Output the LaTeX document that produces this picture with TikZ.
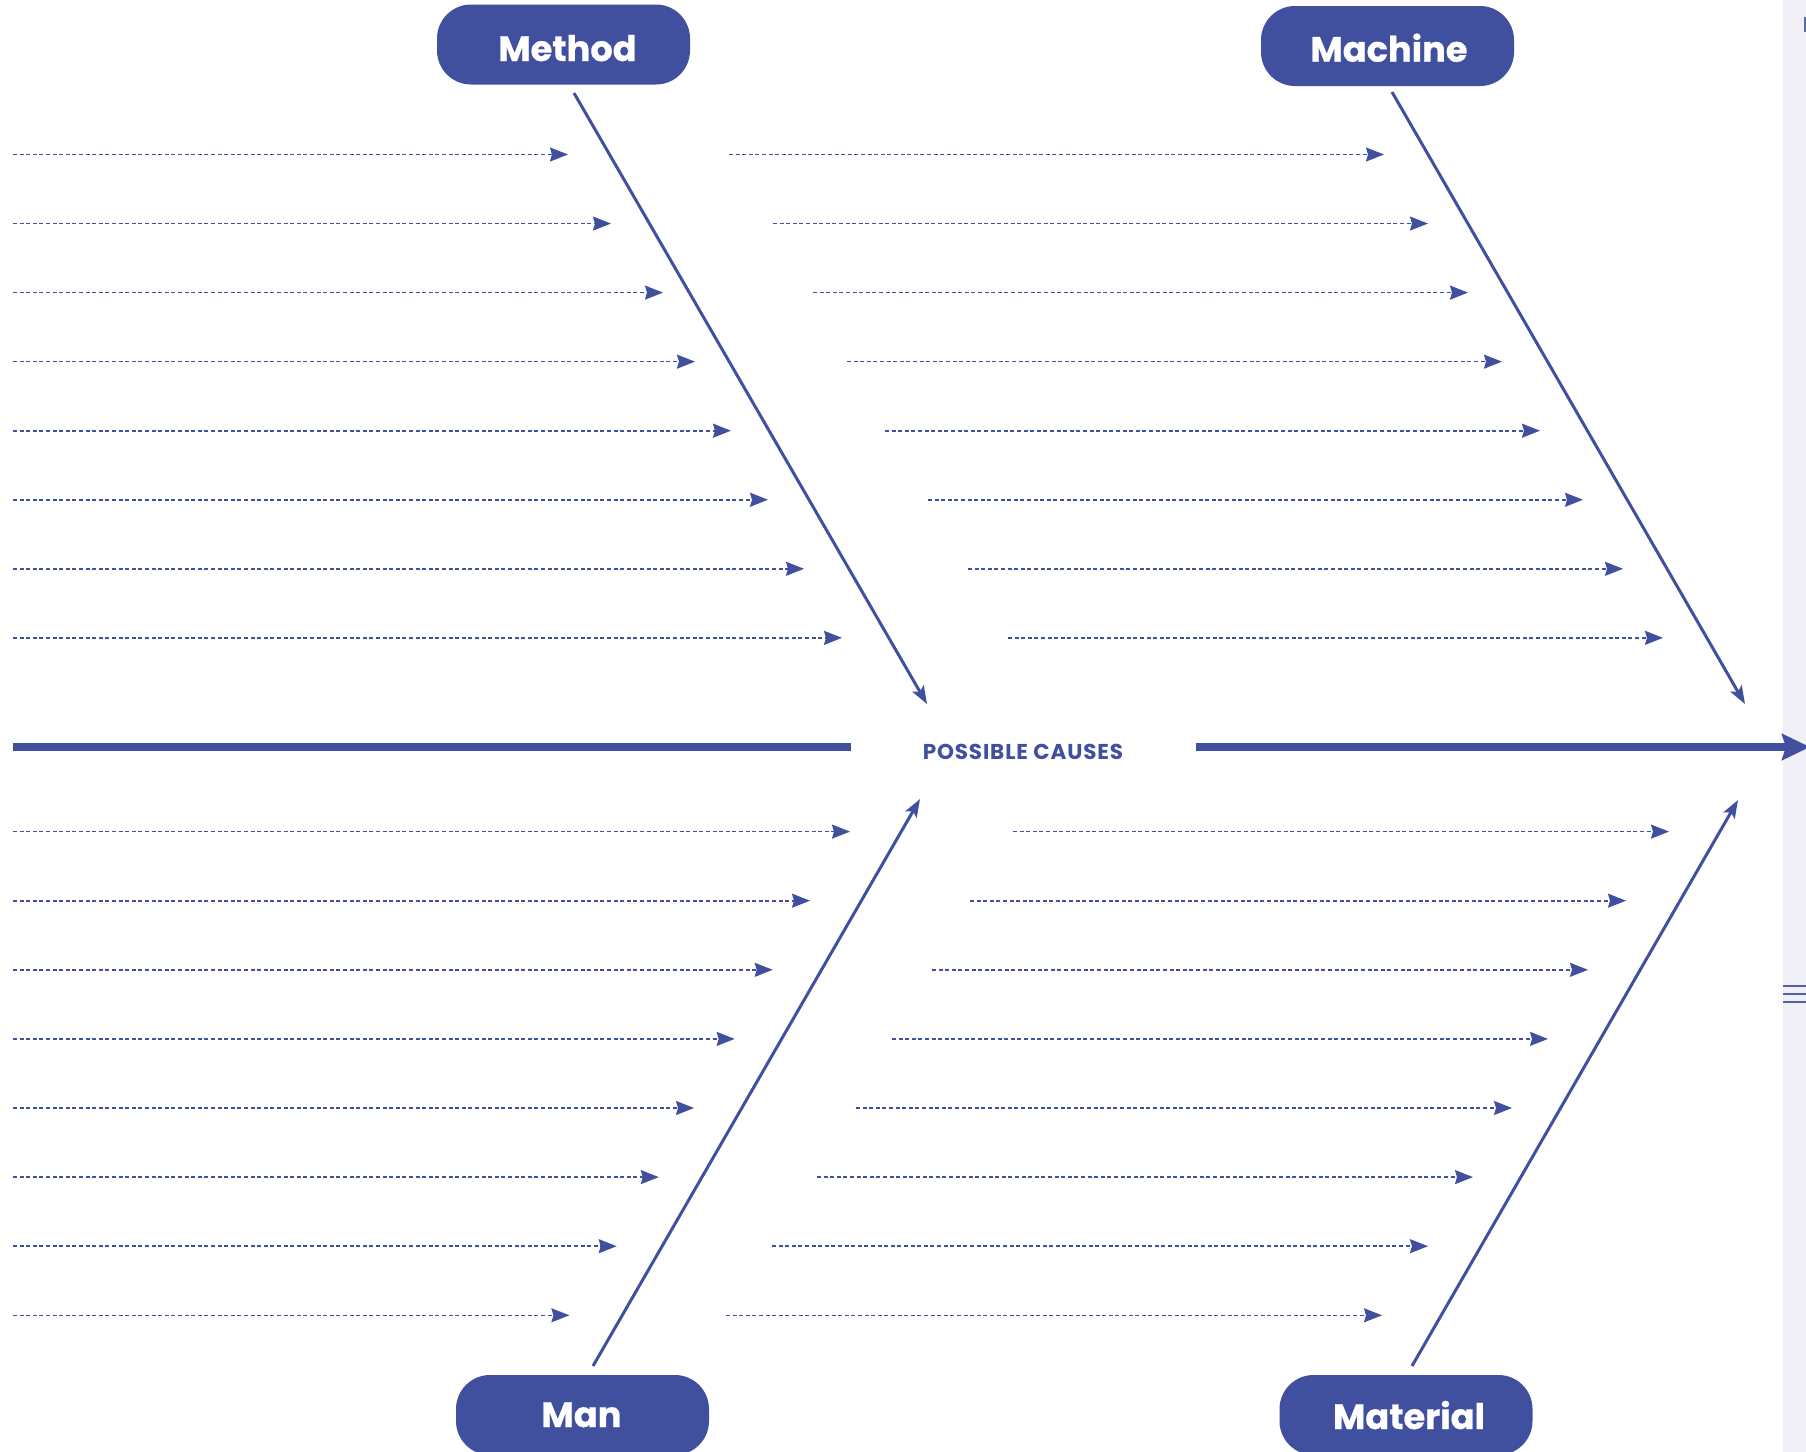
\documentclass[tikz,border=0pt]{standalone}
\usepackage{fontspec}
\setmainfont{Poppins}
\usetikzlibrary{arrows.meta}
\definecolor{navy}{HTML}{41509E}
\definecolor{stripgray}{HTML}{F0EFF5}
\begin{document}
\begin{tikzpicture}[x=0.5pt,y=-0.5pt,
  catbox/.style={draw=none,fill=navy,rounded corners=17pt,minimum width=126.5pt,minimum height=40pt,inner sep=0pt},
  cattext/.style={text=white,anchor=base,inner sep=0pt,font=\fontsize{17.6pt}{20pt}\selectfont\bfseries\addfontfeatures{FakeBold=0.6}},
  bone/.style={navy,line width=1.5pt,-{Stealth[length=9pt,width=6.5pt,inset=2pt]}},
  spine/.style={navy,line width=4pt},
  causeline/.style={navy,line width=0.8pt,dash pattern=on 2pt off 1.3pt,-{Stealth[length=9pt,width=7pt,inset=1pt]}}]
\useasboundingbox (0,0) rectangle (1806,1452);
\clip (0,0) rectangle (1806,1452);
\fill[white] (0,0) rectangle (1806,1452);
% side strip
\fill[stripgray] (1783,0) rectangle (1806,1452);
\fill[navy!85] (1804.3,16.7) rectangle (1806,31.7);
\foreach \yy in {985.7,993.7,1001.7}{\fill[navy!90] (1783,\yy-1.2) rectangle (1806,\yy+1.2);}
% category boxes
\node[catbox] (method) at (563.5,44.5) {};
\node[catbox] (machine) at (1387.5,46) {};
\node[catbox] (man) at (582.5,1415) {};
\node[catbox] (material) at (1406,1415) {};
\node[cattext] (methodt) at (567.5,61) {Method};
\node[cattext] (machinet) at (1389,61.7) {Machine};
\node[cattext] (mant) at (581.5,1427) {Man};
\node[cattext] (materialt) at (1409,1429) {Material};
% head label
\node[anchor=base,inner sep=0pt,text=navy,font=\fontsize{10.75pt}{12pt}\selectfont\bfseries\addfontfeatures{LetterSpace=4}] (causes) at (1023,759) {POSSIBLE CAUSES};
% spine
\coordinate (sp1) at (13,746.5);
\coordinate (sp2) at (851,746.5);
\coordinate (sp3) at (1196,747);
\coordinate (sp4) at (1810,747);
\draw[spine] (sp1) -- (sp2);
\draw[spine,-{Stealth[length=14pt,width=13pt,inset=2pt]}] (sp3) -- (sp4);
% bones
\coordinate (b1s) at (574,93);   \coordinate (b1e) at (927,704);
\coordinate (b2s) at (1392,92);  \coordinate (b2e) at (1745,704);
\coordinate (b3s) at (593,1366); \coordinate (b3e) at (920,799);
\coordinate (b4s) at (1412,1366);\coordinate (b4e) at (1738,800);
\draw[bone] (b1s) -- (b1e);
\draw[bone] (b2s) -- (b2e);
\draw[bone] (b3s) -- (b3e);
\draw[bone] (b4s) -- (b4e);
% upper left causes
\foreach \i/\xe in {0/568,1/611,2/663,3/695,4/731,5/768,6/804,7/842}{
  \coordinate (ul\i s) at (13,{154.5+69.05*\i});
  \coordinate (ul\i e) at (\xe,{154.5+69.05*\i});
  \draw[causeline] (ul\i s) -- (ul\i e);
}
% upper right causes
\foreach \i/\xs in {0/729,1/773,2/813,3/847,4/885,5/928,6/968,7/1008}{
  \coordinate (ur\i s) at (\xs,{154.5+69.05*\i});
  \coordinate (ur\i e) at ({\xs+655},{154.5+69.05*\i});
  \draw[causeline] (ur\i s) -- (ur\i e);
}
% lower left causes
\foreach \i/\xe in {0/850,1/810,2/772.7,3/734.7,4/694,5/658.8,6/616.7,7/569.4}{
  \coordinate (ll\i s) at (13,{831.6+69.1*\i});
  \coordinate (ll\i e) at (\xe,{831.6+69.1*\i});
  \draw[causeline] (ll\i s) -- (ll\i e);
}
% lower right causes
\foreach \i/\xs in {0/1013,1/970,2/932,3/892,4/856,5/817,6/772,7/726}{
  \coordinate (lr\i s) at (\xs,{831.6+69.1*\i});
  \coordinate (lr\i e) at ({\xs+656},{831.6+69.1*\i});
  \draw[causeline] (lr\i s) -- (lr\i e);
}
\end{tikzpicture}
\end{document}
